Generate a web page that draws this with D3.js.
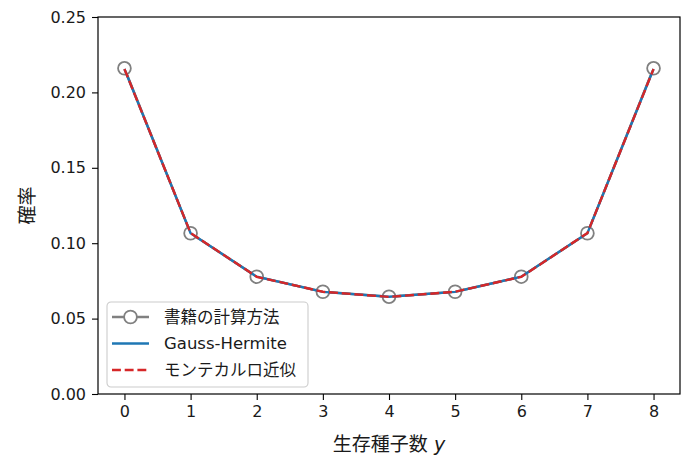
<!DOCTYPE html>
<html>
<head>
<meta charset="utf-8">
<script src="https://cdn.jsdelivr.net/npm/d3@7"></script>
<style>
  body { margin: 0; background: #fff; }
  svg text { font-family: "DejaVu Sans", "Noto Sans CJK JP", sans-serif; fill: #1a1a1a; }
</style>
</head>
<body>
<div id="chart"></div>
<script>
// 生存種子数
const seedCounts = [0, 1, 2, 3, 4, 5, 6, 7, 8];
// 書籍の計算方法
const bookProb = [0.216, 0.1066, 0.0778, 0.0678, 0.0645, 0.0678, 0.0778, 0.1066, 0.216];
// Gauss-Hermite
const ghProb = [0.2155, 0.1066, 0.0778, 0.0677, 0.0645, 0.0677, 0.0778, 0.1066, 0.2155];
// モンテカルロ近似
const mcProb = [0.2155, 0.1067, 0.0777, 0.0678, 0.0644, 0.0678, 0.0777, 0.1067, 0.2155];

const yTicks = [0.00, 0.05, 0.10, 0.15, 0.20, 0.25];
const legendLabels = ['書籍の計算方法', 'Gauss-Hermite', 'モンテカルロ近似'];

const W = 692, H = 464;
const margin = { top: 17, right: 12, bottom: 70, left: 98 };
const width = W - margin.left - margin.right;
const height = H - margin.top - margin.bottom;

const svg = d3.select('#chart').append('svg')
    .attr('width', W)
    .attr('height', H);

const g = svg.append('g')
    .attr('transform', `translate(${margin.left},${margin.top})`);

const x = d3.scaleLinear().domain([-0.4, 8.4]).range([0, width]);
const y = d3.scaleLinear().domain([0, 0.25]).range([height, 0]);

// 坐标轴
const xAxis = g.append('g')
    .attr('transform', `translate(0,${height})`)
    .call(d3.axisBottom(x).tickValues(seedCounts).tickFormat(d3.format('d')).tickSize(6).tickPadding(6));
const yAxis = g.append('g')
    .call(d3.axisLeft(y).tickValues(yTicks).tickFormat(d3.format('.2f')).tickSize(6).tickPadding(6));

[xAxis, yAxis].forEach(a => {
    a.selectAll('.domain').remove();
    a.selectAll('.tick line').attr('stroke', '#000').attr('stroke-width', 1.1);
    a.selectAll('.tick text').attr('font-size', 16).attr('fill', '#1a1a1a');
});

// 枠
g.append('rect')
    .attr('width', width)
    .attr('height', height)
    .attr('fill', 'none')
    .attr('stroke', '#000')
    .attr('stroke-width', 1.2);

const line = (vals) => d3.line()
    .x((d, i) => x(seedCounts[i]))
    .y(d => y(d))(vals);

// 書籍の計算方法
g.append('path')
    .attr('d', line(bookProb))
    .attr('fill', 'none')
    .attr('stroke', '#808080')
    .attr('stroke-width', 2.4);
g.selectAll('.marker')
    .data(bookProb)
    .join('circle')
    .attr('class', 'marker')
    .attr('cx', (d, i) => x(seedCounts[i]))
    .attr('cy', d => y(d))
    .attr('r', 6.4)
    .attr('fill', '#fff')
    .attr('stroke', '#808080')
    .attr('stroke-width', 1.8);

// Gauss-Hermite
g.append('path')
    .attr('d', line(ghProb))
    .attr('fill', 'none')
    .attr('stroke', '#1f77b4')
    .attr('stroke-width', 2.4);

// モンテカルロ近似
g.append('path')
    .attr('d', line(mcProb))
    .attr('fill', 'none')
    .attr('stroke', '#d62728')
    .attr('stroke-width', 2.4)
    .attr('stroke-dasharray', '8.9,3.8');

// 軸ラベル
const xl = svg.append('text')
    .attr('x', margin.left + width / 2)
    .attr('y', 451)
    .attr('text-anchor', 'middle')
    .attr('font-size', 19);
xl.append('tspan').text('生存種子数 ');
xl.append('tspan').attr('font-style', 'italic').text('y');

svg.append('text')
    .attr('transform', `translate(34,${margin.top + height / 2}) rotate(-90)`)
    .attr('text-anchor', 'middle')
    .attr('font-size', 19)
    .text('確率');

// 凡例
const lg = g.append('g').attr('transform', `translate(${107 - margin.left},${302 - margin.top})`);
lg.append('rect')
    .attr('width', 201)
    .attr('height', 85)
    .attr('rx', 4)
    .attr('fill', 'rgba(255,255,255,0.8)')
    .attr('stroke', '#cccccc')
    .attr('stroke-width', 1.1);

const rows = lg.selectAll('.row')
    .data(legendLabels)
    .join('g')
    .attr('class', 'row')
    .attr('transform', (d, i) => `translate(0,${15 + i * 26.5})`);

rows.append('line')
    .attr('x1', 5).attr('x2', 42)
    .attr('stroke', (d, i) => ['#808080', '#1f77b4', '#d62728'][i])
    .attr('stroke-width', 2.4)
    .attr('stroke-dasharray', (d, i) => i === 2 ? '8.9,3.8' : null);

rows.filter((d, i) => i === 0).append('circle')
    .attr('cx', 23.5).attr('r', 6.4)
    .attr('fill', '#fff')
    .attr('stroke', '#808080')
    .attr('stroke-width', 1.8);

rows.append('text')
    .attr('x', 57)
    .attr('dy', '0.35em')
    .attr('font-size', 16.5)
    .text(d => d);
</script>
</body>
</html>
